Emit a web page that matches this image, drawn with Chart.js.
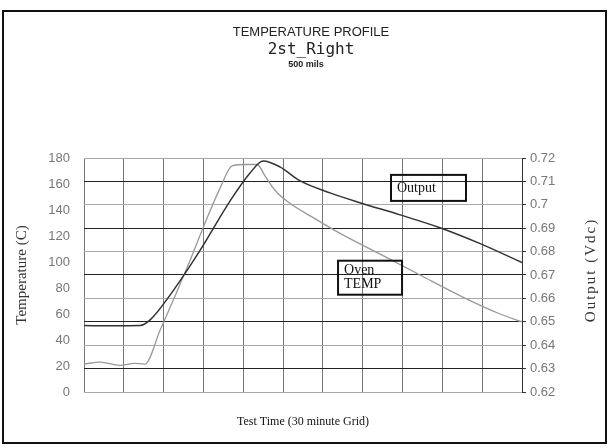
<!DOCTYPE html>
<html>
<head>
<meta charset="utf-8">
<script src="https://cdn.jsdelivr.net/npm/chart.js@4"></script>
<style>
  html, body { margin: 0; padding: 0; background: #fff; }
</style>
</head>
<body>
<canvas id="chart" width="609" height="448"></canvas>
<script>
// time is in grid units (one unit = 30 minutes)
const outputTime = [0, 0.7, 1.41, 1.66, 2.21, 2.91, 3.67, 4.17, 4.5, 4.92, 5.43, 6.18, 6.93, 7.94, 8.94, 9.95, 11.0];
const outputVdc = [0.6484, 0.6483, 0.6484, 0.6508, 0.6626, 0.6804, 0.7017, 0.7136, 0.7187, 0.7162, 0.7102, 0.7051, 0.7009, 0.6957, 0.6902, 0.6834, 0.6753];

const ovenTime = [0, 0.4, 0.9, 1.28, 1.53, 1.91, 2.29, 2.66, 3.04, 3.42, 3.72, 4.05, 4.35, 4.55, 4.8, 5.18, 5.68, 6.43, 7.44, 8.44, 9.45, 10.45, 11.0];
const ovenTemp = [21.5, 23, 20.5, 22, 21.5, 47.5, 74, 101, 130, 157, 174, 175, 175, 166, 155, 145, 135.5, 122, 106, 90, 74, 60, 54];

const tempTicks = [0, 20, 40, 60, 80, 100, 120, 140, 160, 180];
const vdcTicks = [0.62, 0.63, 0.64, 0.65, 0.66, 0.67, 0.68, 0.69, 0.70, 0.71, 0.72];

const heading = ['TEMPERATURE PROFILE', '2st_Right', '500 mils'];
// label boxes anchored at (time, temperature) of their top-left corner
const noteText = [['Output'], ['Oven', 'TEMP']];
const noteTime = [7.71, 6.38];
const noteTemp = [167, 101];

const toPoints = (xs, ys) => xs.map((x, i) => ({ x: x, y: ys[i] }));

const decor = {
    id: 'decor',
    beforeDraw(chart) {
        const ctx = chart.ctx;
        ctx.save();
        ctx.fillStyle = '#fff';
        ctx.fillRect(0, 0, chart.width, chart.height);
        ctx.restore();
    },
    afterDraw(chart) {
        const ctx = chart.ctx;
        const xs = chart.scales.x, ys = chart.scales.y;
        ctx.save();
        // outer frame
        ctx.strokeStyle = '#111';
        ctx.lineWidth = 2;
        ctx.strokeRect(3, 11, 603, 432);

        // heading lines
        ctx.fillStyle = '#222';
        ctx.textAlign = 'center';
        ctx.textBaseline = 'middle';
        ctx.font = '13px "Liberation Sans"';
        ctx.fillText(heading[0], 311, 32);
        ctx.font = '16px "DejaVu Sans Mono"';
        ctx.fillText(heading[1], 311, 50);
        ctx.font = 'bold 9px "Liberation Sans"';
        ctx.fillText(heading[2], 306, 65);

        // right axis title, reading bottom to top
        ctx.save();
        ctx.translate(591, 270);
        ctx.rotate(-Math.PI / 2);
        ctx.font = '15px "Liberation Serif"';
        ctx.letterSpacing = '2px';
        ctx.fillStyle = '#333';
        ctx.fillText('Output (Vdc)', 0, 0);
        ctx.restore();

        // boxed curve labels (not filled, gridlines show through)
        ctx.textAlign = 'left';
        ctx.textBaseline = 'middle';
        const boxW = [75, 64], boxH = [26, 34];
        noteText.forEach((lines, i) => {
            const px = xs.getPixelForValue(noteTime[i]);
            const py = ys.getPixelForValue(noteTemp[i]);
            ctx.strokeStyle = '#111';
            ctx.lineWidth = 2;
            ctx.strokeRect(px, py, boxW[i], boxH[i]);
            ctx.fillStyle = '#111';
            ctx.font = '14px "Liberation Serif"';
            const lh = 14;
            const y0 = py + boxH[i] / 2 - (lines.length - 1) * lh / 2;
            lines.forEach((l, j) => ctx.fillText(l, px + 6, y0 + j * lh));
        });
        ctx.restore();
    }
};

new Chart(document.getElementById('chart'), {
    type: 'line',
    data: {
        datasets: [{
            label: 'Output',
            data: toPoints(outputTime, outputVdc),
            yAxisID: 'y2',
            borderColor: '#333',
            borderWidth: 1.5,
            pointRadius: 0,
            cubicInterpolationMode: 'monotone'
        }, {
            label: 'Oven TEMP',
            data: toPoints(ovenTime, ovenTemp),
            yAxisID: 'y',
            borderColor: '#999',
            borderWidth: 1.3,
            pointRadius: 0,
            cubicInterpolationMode: 'monotone'
        }]
    },
    options: {
        responsive: false,
        animation: false,
        layout: { padding: { top: 158, left: 0, right: 0, bottom: 0 } },
        plugins: {
            legend: { display: false },
            tooltip: { enabled: false }
        },
        scales: {
            x: {
                type: 'linear',
                min: 0,
                max: 11,
                ticks: { display: false, stepSize: 1 },
                grid: { color: '#777', drawTicks: false },
                border: { display: false },
                title: {
                    display: true,
                    text: 'Test Time (30 minute Grid)',
                    color: '#111',
                    font: { family: 'Liberation Serif', size: 12 },
                    padding: { top: 0, bottom: 19 }
                },
                afterFit: s => { s.height = 56; }
            },
            y: {
                position: 'left',
                min: 0,
                max: 180,
                afterBuildTicks: s => { s.ticks = tempTicks.map(v => ({ value: v })); },
                ticks: {
                    color: '#777',
                    padding: 14,
                    font: { family: 'Liberation Sans', size: 13 }
                },
                grid: { drawOnChartArea: false, drawTicks: false },
                border: { display: false },
                title: {
                    display: true,
                    text: 'Temperature (C)',
                    color: '#333',
                    font: { family: 'Liberation Serif', size: 15 },
                    padding: { top: 13, bottom: 0 }
                },
                afterFit: s => { s.width = 84; }
            },
            y2: {
                position: 'right',
                min: 0.62,
                max: 0.72,
                afterBuildTicks: s => { s.ticks = vdcTicks.map(v => ({ value: v })); },
                ticks: {
                    color: '#777',
                    padding: 4,
                    font: { family: 'Liberation Sans', size: 13 },
                    callback: v => String(+v.toFixed(2))
                },
                grid: {
                    tickLength: 4,
                    tickColor: '#333',
                    color: c => (c.index % 2 === 1) ? '#222' : '#aaa'
                },
                border: { display: true, color: '#333' },
                afterFit: s => { s.width = 87; }
            }
        }
    },
    plugins: [decor]
});
</script>
</body>
</html>
